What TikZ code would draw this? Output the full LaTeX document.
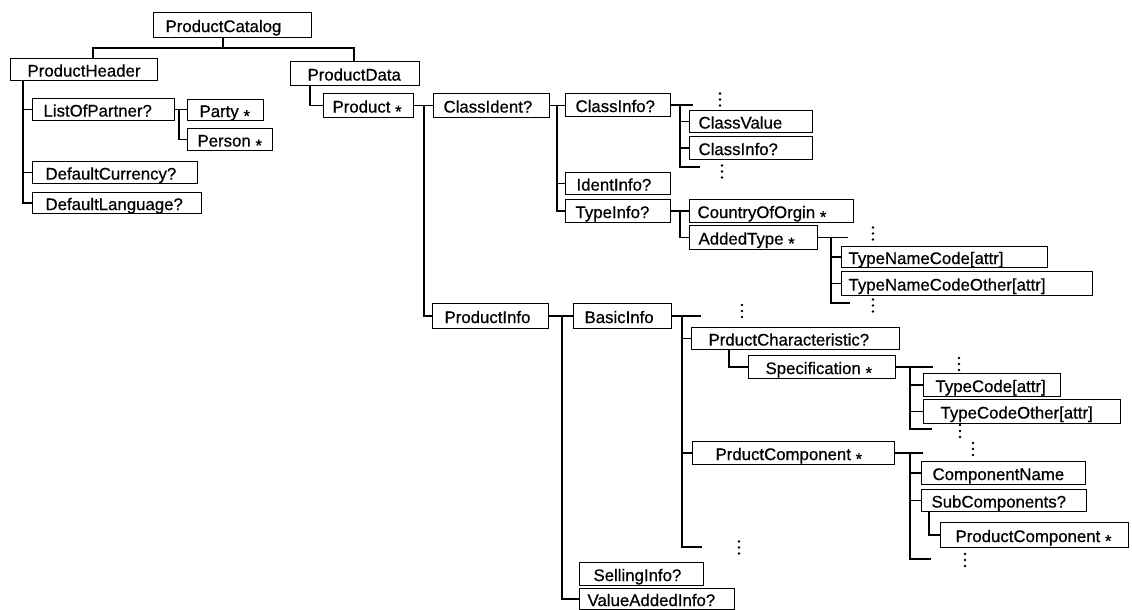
\documentclass[tikz,border=0pt]{standalone}
\usepackage{fontspec}
\setmainfont{Liberation Sans}
\newfontfamily\bxfont{Liberation Sans}[FakeBold=0.6]
\newcommand{\st}{\raisebox{-0.28em}{*}}
\newcommand{\bx}[7]{%
  \pgfmathsetmacro{\bxtw}{#4-#2-2*#6}%
  \pgfmathsetmacro{\bxh}{#5-#3}%
  \node[bx, minimum height=\bxh pt, inner xsep=#6 pt, anchor=north west] (#1) at (#2,#3) {\makebox[\bxtw pt][l]{#7}};%
}
\newcommand{\vd}[3]{%
  \coordinate (#1) at (#2,#3);
  \fill (#1) ++(0,-6) circle[radius=1.3pt] ++(0,6) circle[radius=1.3pt] ++(0,6) circle[radius=1.3pt];%
}
\begin{document}
\begin{tikzpicture}[x=1pt,y=-1pt,
  bx/.style={draw, line width=1.1pt, rectangle, inner ysep=0pt, text height=14pt, text depth=0pt, font=\bxfont\fontsize{16.8}{18}\selectfont},
  ln/.style={line width=1.4pt}]
\useasboundingbox (0,0) rectangle (1132,610);
% boxes
\bx{cat}{153}{12}{311}{37}{12}{ProductCatalog}
\bx{hdr}{10}{58}{157}{80}{17}{ProductHeader}
\bx{lop}{32}{98}{174}{120}{11}{ListOfPartner?}
\bx{party}{187}{99}{263}{120}{12}{Party \st}
\bx{person}{187}{128}{272}{150}{10}{Person \st}
\bx{cur}{32}{161}{197}{183}{13}{DefaultCurrency?}
\bx{lang}{32}{192}{201}{213}{13}{DefaultLanguage?}
\bx{data}{290}{61}{419}{85}{17}{ProductData}
\bx{prod}{323}{93}{413}{117}{9}{Product \st}
\bx{cid}{433}{93}{549}{117}{10}{ClassIdent?}
\bx{cinfo}{565}{93}{670}{116}{10}{ClassInfo?}
\bx{cval}{689}{110}{812}{132}{9}{ClassValue}
\bx{cinfo2}{689}{136}{812}{159}{9}{ClassInfo?}
\bx{iinfo}{565}{172}{670}{194}{11}{IdentInfo?}
\bx{tinfo}{565}{199}{670}{222}{10}{TypeInfo?}
\bx{coo}{689}{199}{853}{222}{8}{CountryOfOrgin \st}
\bx{atype}{689}{225}{817}{249}{9}{AddedType \st}
\bx{tnc}{841}{246}{1047}{267}{7}{TypeNameCode[attr]}
\bx{tnco}{841}{271}{1092}{295}{7}{TypeNameCodeOther[attr]}
\bx{pinfo}{432}{303}{548}{328}{12}{ProductInfo}
\bx{binfo}{573}{303}{671}{328}{11}{BasicInfo}
\bx{pchar}{691}{327}{899}{349}{17}{PrductCharacteristic?}
\bx{spec}{748}{355}{895}{378}{17}{Specification \st}
\bx{tc}{923}{373}{1060}{396}{12}{TypeCode[attr]}
\bx{tco}{923}{399}{1120}{423}{17}{TypeCodeOther[attr]}
\bx{pcomp}{692}{441}{894}{464}{23}{PrductComponent \st}
\bx{cname}{921}{461}{1085}{484}{11}{ComponentName}
\bx{subc}{921}{489}{1086}{511}{10}{SubComponents?}
\bx{pcomp2}{940}{522}{1128}{547}{15}{ProductComponent \st}
\bx{sell}{579}{562}{703}{585}{14}{SellingInfo?}
\bx{vai}{579}{588}{734}{609}{8}{ValueAddedInfo?}
% connectors
\coordinate (j0) at (223,48);
\draw[ln] (j0 |- cat.south) -- (j0);
\draw[ln] ([xshift=83]hdr.north west) |- (j0) -| ([xshift=64]data.north west);
\coordinate (hv) at ([xshift=13]hdr.south west);
\draw[ln] (hv) |- (lang.west);
\draw[ln] (hv |- lop.west) -- (lop.west);
\draw[ln] (hv |- cur.west) -- (cur.west);
\draw[ln] (lop.east) -- (lop.east -| party.west);
\draw[ln] ([xshift=4]lop.east) |- (person.west);
\draw[ln] ([xshift=20]data.south west) |- (prod.west);
\draw[ln] (prod.east) -- (prod.east -| cid.west);
\draw[ln] ([xshift=10]prod.east) |- (pinfo.west);
\coordinate (cv) at ([xshift=7]cid.east);
\draw[ln] (cid.east) -- (cid.east -| cinfo.west);
\draw[ln] (cv) |- (tinfo.west);
\draw[ln] (cv |- iinfo.west) -- (iinfo.west);
\coordinate (kv) at ([xshift=9]cinfo.east);
\coordinate (kt) at ([xshift=22]cinfo.east);
\coordinate (kb) at (700,167);
\draw[ln] (cinfo.east) -- (kt);
\draw[ln] (kv) |- (kb);
\draw[ln] (kv |- cval.west) -- (cval.west);
\draw[ln] (kv |- cinfo2.west) -- (cinfo2.west);
\draw[ln] (tinfo.east) -- (tinfo.east -| coo.west);
\draw[ln] ([xshift=9]tinfo.east) |- (atype.west);
\coordinate (av) at ([xshift=13]atype.east);
\coordinate (aT) at ([xshift=30]atype.east);
\coordinate (aB) at (850,303);
\draw[ln] (atype.east) -- (aT);
\draw[ln] (av) |- (aB);
\draw[ln] (av |- tnc.west) -- (tnc.west);
\draw[ln] (av |- tnco.west) -- (tnco.west);
\draw[ln] (pinfo.east) -- (pinfo.east -| binfo.west);
\draw[ln] ([xshift=13]pinfo.east) |- (vai.west);
\coordinate (bv) at ([xshift=10]binfo.east);
\coordinate (bT) at ([xshift=29]binfo.east);
\coordinate (bB) at (702,547);
\draw[ln] (binfo.east) -- (bT);
\draw[ln] (bv) |- (bB);
\draw[ln] (bv |- pchar.west) -- (pchar.west);
\draw[ln] (bv |- pcomp.west) -- (pcomp.west);
\draw[ln] ([xshift=38]pchar.south west) |- (spec.west);
\coordinate (sv) at ([xshift=14]spec.east);
\coordinate (sT) at ([xshift=37]spec.east);
\coordinate (sB) at (932,429);
\draw[ln] (spec.east) -- (sT);
\draw[ln] (sv) |- (sB);
\draw[ln] (sv |- tc.west) -- (tc.west);
\draw[ln] (sv |- tco.west) -- (tco.west);
\coordinate (pv) at ([xshift=15]pcomp.east);
\coordinate (pT) at ([xshift=28]pcomp.east);
\coordinate (pB) at (931,559);
\draw[ln] (pcomp.east) -- (pT);
\draw[ln] (pv) |- (pB);
\draw[ln] (pv |- cname.west) -- (cname.west);
\draw[ln] (pv |- subc.west) -- (subc.west);
\draw[ln] ([xshift=8]subc.south west) |- (pcomp2.west);
% vertical dots
\vd{d1}{720}{99.5}
\vd{d2}{722}{171.5}
\vd{d3}{873}{233.5}
\vd{d4}{873}{305.5}
\vd{d5}{742}{311}
\vd{d6}{959}{364}
\vd{d7}{960}{431}
\vd{d8}{973}{449}
\vd{d9}{739}{547.5}
\vd{d10}{965}{560}
\end{tikzpicture}
\end{document}
